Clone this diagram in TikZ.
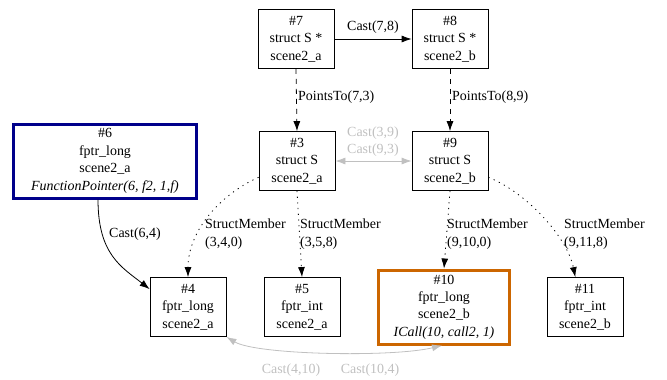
\documentclass[tikz,border=0pt]{standalone}
\usepackage{fontspec}
\setmainfont{Liberation Serif}
\usetikzlibrary{arrows.meta}

\definecolor{fpblue}{RGB}{0,0,139}
\definecolor{callorange}{RGB}{204,102,0}
\definecolor{castgray}{RGB}{192,192,192}

\tikzset{
  var/.style={draw, line width=0.8bp, minimum width=76bp, minimum height=59bp,
    inner sep=0pt, align=center, font=\fontsize{14}{17.5}\selectfont},
  lbl/.style={inner sep=0pt, align=left, font=\fontsize{14}{17.5}\selectfont},
  tip/.style={Latex[length=10bp,width=7bp]},
  edge/.style={line width=0.8bp, -{Latex[length=10bp,width=7bp]}},
  pointsto/.style={edge, dash pattern=on 5bp off 5bp},
  member/.style={edge, dash pattern=on 1.2bp off 4.5bp},
  cast/.style={line width=0.8bp, castgray,
    {Latex[length=10bp,width=7bp]}-{Latex[length=10bp,width=7bp]}},
}

\begin{document}
\begin{tikzpicture}[x=1bp, y=-1bp]
\useasboundingbox (0,0) rectangle (667,379);

%nodes
\node[var] (n7) at (296,39) {\#7\\struct S *\\scene2\_a};
\node[var] (n8) at (450,39) {\#8\\struct S *\\scene2\_b};
\node[var] (n3) at (297,161) {\#3\\struct S\\scene2\_a};
\node[var] (n9) at (450,161) {\#9\\struct S\\scene2\_b};
\node[var, draw=fpblue, line width=3bp, minimum width=183bp, minimum height=74bp]
  (n6) at (105,161) {\#6\\fptr\_long\\scene2\_a\\\textit{FunctionPointer(6, f2, 1,f)}};
\node[var] (n4) at (188,307) {\#4\\fptr\_long\\scene2\_a};
\node[var] (n5) at (302,307) {\#5\\fptr\_int\\scene2\_a};
\node[var, draw=callorange, line width=3bp, minimum width=131bp, minimum height=74bp]
  (n10) at (444,307) {\#10\\fptr\_long\\scene2\_b\\\textit{ICall(10, call2, 1)}};
\node[var] (n11) at (585,307) {\#11\\fptr\_int\\scene2\_b};

%edges
\draw[edge] (n7) -- (n8);
\draw[pointsto] (n7.south) -- (n3.north);
\draw[pointsto] (n8.south) -- (n9.north);
\draw[cast] (n3) -- (n9);
\draw[edge] ([xshift=-7bp]n6.south) .. controls +(0,55) and +(-28,-22) .. (n4.155);
\draw[member] (n3.203) .. controls +(-40,18) and +(0,-45) .. (n4.north);
\draw[member] (n3.south) -- (n5.north);
\draw[member] (n9.south) -- (n10.north);
\draw[member] (n9.337) .. controls +(38,15) and +(-8,-40) .. (n11.108);
\draw[cast] (n4.south east) .. controls +(30,18) and +(-50,12) .. ([xshift=-2bp]n10.south);

%labels
\node[lbl] (l78) at (373,27) {Cast(7,8)};
\node[lbl, anchor=west] (l73) at (298,97) {PointsTo(7,3)};
\node[lbl, anchor=west] (l89) at (452,97) {PointsTo(8,9)};
\node[lbl, castgray] (l39) at (373,133) {Cast(3,9)};
\node[lbl, castgray] (l93) at (373,150) {Cast(9,3)};
\node[lbl] (l64) at (135,234) {Cast(6,4)};
\node[lbl, anchor=west] (l34) at (205,234) {StructMember\\(3,4,0)};
\node[lbl, anchor=west] (l35) at (300,234) {StructMember\\(3,5,8)};
\node[lbl, anchor=west] (l910) at (447,234) {StructMember\\(9,10,0)};
\node[lbl, anchor=west] (l911) at (564,234) {StructMember\\(9,11,8)};
\node[lbl, castgray] (l410) at (291,370) {Cast(4,10)};
\node[lbl, castgray] (l104) at (370,370) {Cast(10,4)};

\end{tikzpicture}
\end{document}
